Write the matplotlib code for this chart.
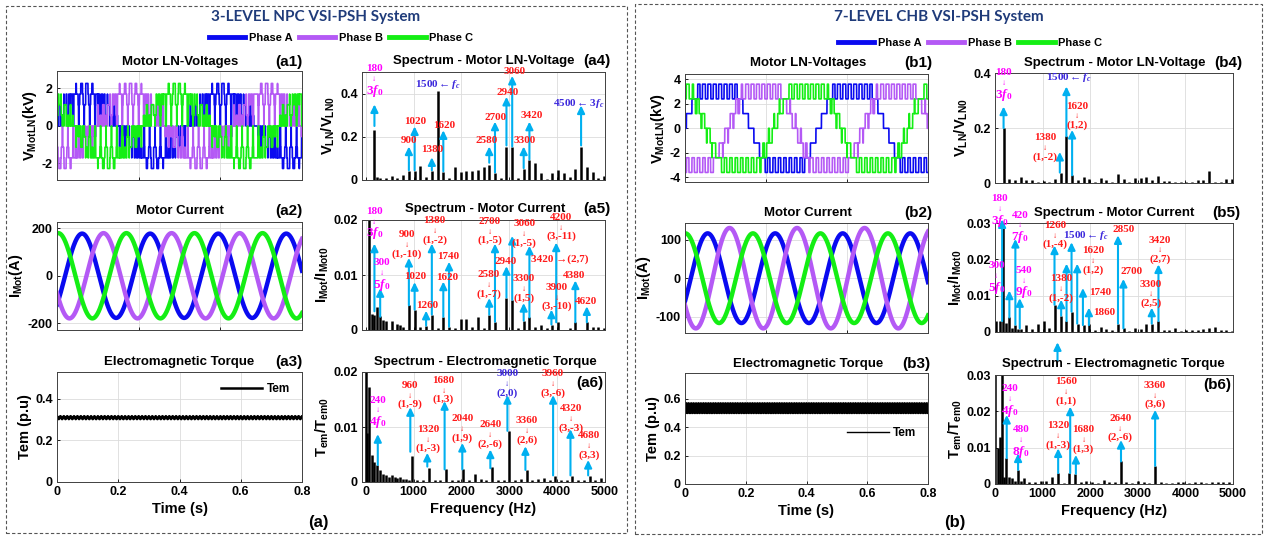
import numpy as np
import matplotlib
import matplotlib.pyplot as plt
from matplotlib.lines import Line2D
from matplotlib.patches import Rectangle
from matplotlib.ticker import FuncFormatter

matplotlib.use('agg')

plt.rcParams['font.family'] = ['Liberation Sans', 'DejaVu Sans']
plt.rcParams['font.weight'] = 'bold'
plt.rcParams['axes.labelweight'] = 'bold'
plt.rcParams['mathtext.fontset'] = 'custom'
plt.rcParams['mathtext.rm'] = 'Liberation Serif'
plt.rcParams['mathtext.it'] = 'Liberation Serif:italic'
plt.rcParams['mathtext.bf'] = 'Liberation Sans:bold'

# ---------------- data ----------------
F0 = 60.0          # fundamental (Hz)
FC = 1500.0        # carrier (Hz)
PHASES = ['Phase A', 'Phase B', 'Phase C']
PHASE_SHIFT = [0.0, -2 * np.pi / 3, 2 * np.pi / 3]

T_VOLT = (0.30, 0.33)
T_CURR = (0.30, 0.36)
T_TORQ = (0.0, 0.8)

# 3-level NPC
NPC_HALF_VDC = 1.7      # kV
NPC_MOD = 0.95
NPC_V_PEAK_T = 0.30348  # phase A voltage centre
NPC_I_AMP = [178, 180, 180]
NPC_I_PEAK_T = [0.30615, 0.31139, 0.30033]
NPC_TEM_MEAN = 0.31
NPC_TEM_RIPPLE = 0.007

# 7-level CHB
CHB_CELL_V = 1.2        # kV per level
CHB_REF_GAIN = 1.5
CHB_REF_LEVEL = 2.55
CHB_V_PEAK_T = 0.3040
CHB_I_AMP = [117, 131, 117]
CHB_I_PEAK_T = [0.3056, 0.3110, 0.3001]
CHB_TEM_MEAN = 0.533
CHB_TEM_RIPPLE = 0.038

# spectra: (frequency Hz, magnitude)
A4_F = [180, 240, 300, 420, 540, 660, 780, 900, 1020, 1140, 1260, 1380, 1500, 1620, 1740, 1860, 1980,
        2100, 2220, 2340, 2460, 2580, 2700, 2820, 2940, 3060, 3180, 3300, 3420, 3540, 3660, 3780, 3900,
        4020, 4140, 4260, 4380, 4500, 4620, 4740, 4860, 4980]
A4_M = [0.233, 0.012, 0.008, 0.01, 0.02, 0.008, 0.025, 0.043, 0.04, 0.067, 0.015, 0.04, 0.41, 0.036,
        0.01, 0.062, 0.036, 0.04, 0.043, 0.048, 0.062, 0.071, 0.031, 0.008, 0.155, 0.152, 0.01, 0.051,
        0.093, 0.078, 0.031, 0.006, 0.033, 0.047, 0.031, 0.012, 0.051, 0.155, 0.059, 0.039, 0.008, 0.019]

A5_F = [60, 120, 180, 240, 300, 360, 420, 540, 660, 720, 780, 900, 1020, 1140, 1260, 1380, 1500, 1620,
        1740, 1860, 1980, 2100, 2220, 2340, 2460, 2580, 2700, 2940, 3060, 3180, 3300, 3420, 3540, 3660,
        3780, 3900, 4020, 4260, 4380, 4620, 4740, 4860, 4980]
A5_M = [1.0, 0.003, 0.0028, 0.0041, 0.0025, 0.0018, 0.0016, 0.0016, 0.0011, 0.0009, 0.0006, 0.0045,
        0.0037, 0.0005, 0.0008, 0.0028, 0.0004, 0.0024, 0.0006, 0.0003, 0.002, 0.002, 0.0005, 0.0023,
        0.0004, 0.0028, 0.0015, 0.0059, 0.0055, 0.0004, 0.0017, 0.0023, 0.0006, 0.001, 0.0004, 0.001,
        0.0014, 0.0004, 0.0014, 0.0014, 0.0005, 0.0005, 0.0004]

A6_F = [0, 30, 75, 120, 180, 240, 300, 360, 420, 480, 540, 600, 660, 720, 780, 840, 900, 960, 1080,
        1200, 1320, 1440, 1560, 1680, 1800, 1920, 2040, 2160, 2280, 2400, 2520, 2640, 2760, 2880, 3000,
        3120, 3240, 3360, 3480, 3600, 3720, 3840, 3960, 4080, 4200, 4320, 4440, 4560, 4680, 4800, 4920]
A6_M = [0.03, 0.009, 0.0173, 0.005, 0.0037, 0.0031, 0.0021, 0.0015, 0.0012, 0.001, 0.0012, 0.0009,
        0.0008, 0.001, 0.0006, 0.0005, 0.0004, 0.0048, 0.0003, 0.0004, 0.0025, 0.0003, 0.0003, 0.0023,
        0.0004, 0.0003, 0.0023, 0.0003, 0.0014, 0.0005, 0.0003, 0.0027, 0.0003, 0.0003, 0.0093, 0.0003,
        0.0006, 0.0022, 0.0003, 0.0006, 0.0007, 0.0003, 0.0011, 0.0003, 0.0003, 0.0011, 0.0003, 0.0003,
        0.0011, 0.0003, 0.0007]

B4_F = [180, 300, 420, 540, 660, 780, 900, 1020, 1140, 1260, 1380, 1500, 1620, 1740, 1860, 1980, 2100,
        2220, 2340, 2460, 2580, 2700, 2820, 2940, 3060, 3180, 3300, 3420, 3540, 3660, 3780, 3900, 4020,
        4140, 4260, 4380, 4500, 4620, 4740, 4860, 4980]
B4_M = [0.2, 0.016, 0.012, 0.022, 0.01, 0.012, 0.005, 0.008, 0.005, 0.016, 0.038, 0.17, 0.028, 0.01,
        0.022, 0.016, 0.005, 0.02, 0.01, 0.004, 0.034, 0.016, 0.005, 0.02, 0.02, 0.022, 0.01, 0.024,
        0.008, 0.008, 0.005, 0.004, 0.005, 0.004, 0.01, 0.01, 0.044, 0.004, 0.003, 0.016, 0.016]

B5_F = [30, 100, 170, 240, 300, 360, 420, 480, 540, 660, 780, 900, 1020, 1140, 1260, 1380, 1500, 1620,
        1740, 1860, 1980, 2100, 2220, 2340, 2460, 2580, 2700, 2820, 2940, 3060, 3180, 3300, 3420, 3540,
        3660, 3780, 3900, 4020, 4140, 4260, 4380, 4500, 4620, 4740, 4860, 4980]
B5_M = [0.003, 0.003, 0.05, 0.0025, 0.0041, 0.0012, 0.0019, 0.0009, 0.0009, 0.0019, 0.0008, 0.0023,
        0.003, 0.0012, 0.0075, 0.0045, 0.003, 0.0056, 0.0023, 0.0019, 0.0023, 0.0006, 0.0015, 0.0008,
        0.0006, 0.0023, 0.0012, 0.0004, 0.0012, 0.0009, 0.0023, 0.0023, 0.003, 0.0005, 0.0006, 0.0012,
        0.0004, 0.0005, 0.0006, 0.0006, 0.0008, 0.0012, 0.0015, 0.0005, 0.0005, 0.0004]

B6_F = [0, 60, 100, 150, 190, 240, 300, 360, 420, 480, 540, 600, 720, 840, 960, 1080, 1200, 1320, 1440,
        1560, 1680, 1800, 1920, 2040, 2160, 2280, 2400, 2520, 2640, 2760, 2880, 3000, 3120, 3240, 3360,
        3480, 3600, 3720, 3840, 3960, 4080, 4200, 4320, 4440, 4560, 4680, 4800, 4920]
B6_M = [0.05, 0.0098, 0.013, 0.05, 0.002, 0.0071, 0.0018, 0.0017, 0.0009, 0.0039, 0.0007, 0.0016, 0.0006,
        0.0005, 0.0007, 0.0008, 0.002, 0.003, 0.0003, 0.003, 0.0028, 0.0005, 0.0008, 0.0005, 0.0004,
        0.0011, 0.0006, 0.0005, 0.0062, 0.0005, 0.0004, 0.0008, 0.0006, 0.0004, 0.005, 0.0005, 0.0004,
        0.0004, 0.0006, 0.0005, 0.0004, 0.0005, 0.0006, 0.0004, 0.0005, 0.0005, 0.0006, 0.0005]

# harmonic markers: arrows (freq, from, to) and labels (freq, value, text, colour key)
A4_ARROWS = [(180, 0.25, 0.35), (900, 0.045, 0.155), (1020, 0.045, 0.248), (1380, 0.045, 0.105),
             (1620, 0.04, 0.23), (2580, 0.08, 0.155), (2700, 0.035, 0.27), (2940, 0.16, 0.385),
             (3060, 0.155, 0.482), (3300, 0.055, 0.155), (3420, 0.095, 0.27), (4500, 0.16, 0.345)]
A4_LABELS = [(180, 0.516, '180\n↓\n$3f_0$', 'm'), (900, 0.183, '900', 'r'), (1033, 0.271, '1020', 'r'),
             (1382, 0.141, '1380', 'r'), (1640, 0.253, '1620', 'r'), (2533, 0.183, '2580', 'r'),
             (2708, 0.291, '2700', 'r'), (2973, 0.405, '2940', 'r'), (3112, 0.504, '3060', 'r'),
             (3315, 0.183, '3300', 'r'), (3475, 0.299, '3420', 'r'),
             (1500, 0.442, r'1500$\leftarrow f_c$', 'b'), (4452, 0.353, r'4500$\leftarrow 3f_c$', 'b')]

A5_ARROWS = [(180, 0.0034, 0.0157), (300, 0.0024, 0.0076), (900, 0.0045, 0.0131), (1020, 0.0037, 0.0087),
             (1260, 0.0008, 0.0035), (1380, 0.0028, 0.0157), (1620, 0.0024, 0.0088), (1740, 0.0006, 0.0124),
             (2580, 0.0028, 0.0058), (2700, 0.0015, 0.0157), (2940, 0.0059, 0.0116), (3060, 0.0055, 0.0171),
             (3300, 0.0017, 0.0049), (3420, 0.0023, 0.0153), (3880, 0.001, 0.0037), (3980, 0.0014, 0.0159),
             (4380, 0.0014, 0.009), (4620, 0.0014, 0.0043)]
A5_LABELS = [(181, 0.0216, '180\n↓\n$3f_0$', 'm'), (330, 0.0122, '300\n↓\n$5f_0$', 'm'),
             (858, 0.0174, '900\n↓\n(1,-10)', 'r'), (1040, 0.0098, '1020', 'r'), (1277, 0.0045, '1260', 'r'),
             (1437, 0.0199, '1380\n↓\n(1,-2)', 'r'), (1700, 0.0095, '1620', 'r'), (1717, 0.0133, '1740', 'r'),
             (2575, 0.0101, '2580\n↓\n(1,-7)', 'r'), (2589, 0.0198, '2700\n↓\n(1,-5)', 'r'),
             (2917, 0.0124, '2940', 'r'), (3310, 0.0194, '3060\n↓\n(1,-5)', 'r'),
             (3300, 0.0094, '3300\n↓\n(1,5)', 'r'), (4054, 0.0128, '3420 →(2,7)', 'r'),
             (3990, 0.0078, '3900\n↓\n(3,-10)', 'r'), (4089, 0.0205, '4200\n↓\n(3,-11)', 'r'),
             (4355, 0.00997, '4380', 'r'), (4613, 0.0052, '4620', 'r')]

A6_ARROWS = [(250, 0.0031, 0.0087), (930, 0.0055, 0.0136), (1285, 0.0028, 0.0053), (1647, 0.0023, 0.0147),
             (2017, 0.0023, 0.0071), (2603, 0.0025, 0.0059), (2960, 0.0093, 0.0158), (3336, 0.0022, 0.0065),
             (3915, 0.0012, 0.0158), (4278, 0.0012, 0.0096), (4648, 0.0012, 0.004)]
A6_LABELS = [(251, 0.0149, '240\n↓\n$4f_0$', 'm'), (914, 0.0176, '960\n↓\n(1,-9)', 'r'),
             (1298, 0.0096, '1320\n↓\n(1,-3)', 'r'), (1626, 0.0185, '1680\n↓\n(1,3)', 'r'),
             (2017, 0.0115, '2040\n↓\n(1,9)', 'r'), (2603, 0.0104, '2640\n↓\n(2,-6)', 'r'),
             (3371, 0.0111, '3360\n↓\n(2,6)', 'r'), (3915, 0.0197, '3960\n↓\n(3,-6)', 'r'),
             (4299, 0.0133, '4320\n↓\n(3,-3)', 'r'), (4669, 0.0084, '4680\n↓\n(3,3)', 'r'),
             (2959, 0.0197, '3000\n↓\n(2,0)', 'b')]

B4_ARROWS = [(180, 0.2, 0.278), (1500, 0.17, 0.351), (1620, 0.028, 0.193), (1362, 0.038, 0.113)]
B4_LABELS = [(183, 0.402, '180\n↓\n$3f_0$', 'm'), (1552, 0.382, r'1500$\leftarrow f_c$', 'b'),
             (1728, 0.28, '1620\n↓\n(1,2)', 'r'), (1060, 0.166, '1380\n↓\n(1,-2)', 'r')]

B5_ARROWS = [(150, 0.003, 0.031), (302, 0.004, 0.0114), (428, 0.002, 0.0256), (520, 0.001, 0.0093),
             (1250, 0.0075, 0.0238), (1390, 0.0045, 0.0089), (1503, 0.003, 0.0188), (1608, 0.0056, 0.0247),
             (1727, 0.0023, 0.0188), (1847, 0.0019, 0.0121), (1973, 0.0019, 0.0067), (2584, 0.0023, 0.0266),
             (2697, 0.001, 0.0146), (3293, 0.0023, 0.0067), (3434, 0.003, 0.0186)]
B5_LABELS = [(100, 0.0368, '180\n↓\n$3f_0$', 'm'), (30, 0.0182, '300\n↓\n$5f_0$', 'm'),
             (527, 0.0322, '420\n↓\n$7f_0$', 'm'), (604, 0.017, '540\n↓\n$9f_0$', 'm'),
             (1257, 0.0294, '1260\n↓\n(1,-4)', 'r'), (1397, 0.0147, '1380\n↓\n(1,-2)', 'r'),
             (2065, 0.0224, '1620\n↓\n(1,2)', 'r'), (2205, 0.011, '1740', 'r'), (2289, 0.0053, '1860', 'r'),
             (2711, 0.0281, '2850', 'r'), (2865, 0.0166, '2700', 'r'), (3462, 0.0253, '3420\n↓\n(2,7)', 'r'),
             (3272, 0.0132, '3300\n↓\n(2,5)', 'r'), (1917, 0.0266, r'1500$\leftarrow f_c$', 'b')]

B6_ARROWS = [(246, 0.0071, 0.019), (485, 0.0039, 0.0084), (1327, 0.003, 0.0098), (1580, 0.003, 0.0213),
             (1699, 0.0028, 0.008), (2647, 0.0062, 0.0121), (3364, 0.005, 0.0204), (1313, 0.0341, 0.039)]
B6_LABELS = [(316, 0.0263, '240\n↓\n$4f_0$', 'm'), (541, 0.0149, '480\n↓\n$8f_0$', 'm'),
             (1327, 0.016, '1320\n↓\n(1,-3)', 'r'), (1489, 0.0282, '1560\n↓\n(1,1)', 'r'),
             (1861, 0.0149, '1680\n↓\n(1,3)', 'r'), (2633, 0.0181, '2640\n↓\n(2,-6)', 'r'),
             (3364, 0.0272, '3360\n↓\n(3,6)', 'r')]

# ---------------- styles ----------------
PHASE_COLORS = ['#0a0af0', '#b459f5', '#14ee14']
LABEL_COLORS = {'r': '#ff1a1a', 'm': '#ff00ff', 'b': '#3c28dc'}
ARROW_C = '#00b0f0'
TITLE_C = '#1f3b7a'
W, H = 1264, 536

fig = plt.figure(figsize=(W / 100, H / 100), dpi=100)


def box(l, t, r, b):
    return [l / W, 1 - b / H, (r - l) / W, (b - t) / H]


def P(x, y):
    return x / W, 1 - y / H


fmt = FuncFormatter(lambda v, p: '%g' % v)


def style(ax, xlim, ylim, xticks, yticks, show_x):
    ax.set_xlim(xlim)
    ax.set_ylim(ylim)
    ax.set_xticks(xticks)
    ax.set_yticks(yticks)
    ax.xaxis.set_major_formatter(fmt)
    ax.yaxis.set_major_formatter(fmt)
    if not show_x:
        ax.set_xticklabels([])
    ax.grid(True, color='#dcdcdc', lw=0.6)
    ax.set_axisbelow(True)
    ax.tick_params(direction='in', length=2.5, width=0.6, labelsize=9, pad=3)
    for s in ax.spines.values():
        s.set_linewidth(0.7)
        s.set_color('#404040')


def put_label(ax, x, y, text, color):
    # number on top, small down arrow, then the harmonic / sideband name
    for i, line in enumerate(text.split('\n')):
        off = [0, 7.5, 14][i]
        size = 8
        if line.startswith('$'):
            off += 2
            size = 9.5
        elif line == '↓':
            size = 6
        ax.annotate(line, (x, y), xytext=(0, -off), textcoords='offset points', ha='center', va='center',
                    color=color, fontsize=size, family='Liberation Serif', fontweight='bold',
                    annotation_clip=False)


def spectrum(ax, freqs, mags, arrows, labels, xlim, ylim, yticks, show_x):
    ax.vlines(freqs, 0, mags, color='black', lw=1.8, zorder=2)
    for x, y0, y1 in arrows:
        ax.annotate('', xy=(x, y1), xytext=(x, y0),
                    arrowprops=dict(arrowstyle='-|>,head_length=0.45,head_width=0.22', color=ARROW_C,
                                    lw=1.5, shrinkA=0, shrinkB=0, mutation_scale=10),
                    annotation_clip=False, zorder=3)
    for x, y, text, key in labels:
        put_label(ax, x, y, text, LABEL_COLORS[key])
    style(ax, xlim, ylim, [0, 1000, 2000, 3000, 4000, 5000], yticks, show_x)
    if show_x:
        ax.set_xlabel('Frequency (Hz)', fontsize=10.5, labelpad=3)


def label_row(x, y, text, tag, tag_x, tag_y=None):
    fig.text(*P(x, y), text, ha='center', va='center', fontsize=9.5, fontweight='bold')
    fig.text(*P(tag_x, y if tag_y is None else tag_y), tag, ha='right', va='center',
             fontsize=11, fontweight='bold')


# ---------------- waveforms ----------------
t_v = np.linspace(T_VOLT[0], T_VOLT[1], 4001)
t_i = np.linspace(T_CURR[0], T_CURR[1], 2001)
t_q = np.linspace(T_TORQ[0], T_TORQ[1], 8001)
tri = np.abs(((t_v * FC) % 1.0) * 2 - 1)


def npc_legs():
    legs = []
    for shift in PHASE_SHIFT:
        ref = NPC_MOD * np.cos(2 * np.pi * F0 * (t_v - NPC_V_PEAK_T) + shift)
        legs.append(NPC_HALF_VDC * ((ref > tri).astype(float) - ((-ref) > tri).astype(float)))
    common = sum(legs) / 3
    return [v - common for v in legs]


def chb_voltage(shift):
    r = CHB_REF_LEVEL * np.clip(CHB_REF_GAIN * np.cos(2 * np.pi * F0 * (t_v - CHB_V_PEAK_T) + shift), -1, 1)
    base = np.floor(r)
    return CHB_CELL_V * (base + ((r - base) > tri))


# ---------------- left panel (3-level NPC) ----------------
ax = fig.add_axes(box(57, 71, 302, 180))
for k, v in enumerate(npc_legs()):
    ax.plot(t_v, v, color=PHASE_COLORS[k], lw=1.2)
style(ax, T_VOLT, (-2.88, 2.93), [0.31, 0.32], [-2, 0, 2], False)
ax.set_ylabel(r'$\mathbf{V_{MotLN}}$(kV)', fontsize=10.5, labelpad=2)
label_row(180, 62, 'Motor LN-Voltages', '(a1)', 302)

ax = fig.add_axes(box(57, 222, 302, 330))
for k in range(3):
    ax.plot(t_i, NPC_I_AMP[k] * np.cos(2 * np.pi * F0 * (t_i - NPC_I_PEAK_T[k])), color=PHASE_COLORS[k], lw=3.2)
style(ax, T_CURR, (-229, 227), [0.32, 0.34], [-200, 0, 200], False)
ax.set_ylabel(r'$\mathbf{I_{Mot}}$(A)', fontsize=10.5, labelpad=2)
label_row(180, 211, 'Motor Current', '(a2)', 302)

ax = fig.add_axes(box(57, 372, 302, 482))
ax.plot(t_q, NPC_TEM_MEAN + NPC_TEM_RIPPLE * np.cos(2 * np.pi * 90 * t_q), color='black', lw=1.8, label='Tem')
style(ax, T_TORQ, (0, 0.53), [0, 0.2, 0.4, 0.6, 0.8], [0, 0.2, 0.4], True)
ax.set_ylabel('Tem (p.u)', fontsize=10.5, labelpad=2)
ax.set_xlabel('Time (s)', fontsize=10.5, labelpad=3)
ax.legend(loc='center', bbox_to_anchor=(0.81, 0.845), frameon=False, handlelength=3.5, handletextpad=0.4,
          prop={'size': 8.5, 'weight': 'bold'})
label_row(179, 362, 'Electromagnetic Torque', '(a3)', 302)

ax = fig.add_axes(box(362, 72, 605, 180))
spectrum(ax, A4_F, A4_M, A4_ARROWS, A4_LABELS, (-80, 5000), (0, 0.5), [0, 0.2, 0.4], False)
ax.set_ylabel(r'$\mathbf{V_{LN}/V_{LN0}}$', fontsize=10.5, labelpad=2)
label_row(484, 61, 'Spectrum - Motor LN-Voltage', '(a4)', 610)

ax = fig.add_axes(box(362, 220, 605, 330))
spectrum(ax, A5_F, A5_M, A5_ARROWS, A5_LABELS, (-80, 5000), (0, 0.02), [0, 0.01, 0.02], False)
ax.set_ylabel(r'$\mathbf{I_{Mot}/I_{Mot0}}$', fontsize=10.5, labelpad=2)
label_row(485, 209, 'Spectrum - Motor Current', '(a5)', 610)

ax = fig.add_axes(box(362, 372, 605, 482))
spectrum(ax, A6_F, A6_M, A6_ARROWS, A6_LABELS, (-80, 5000), (0, 0.02), [0, 0.01, 0.02], True)
ax.set_ylabel(r'$\mathbf{T_{em}/T_{em0}}$', fontsize=10.5, labelpad=2)
label_row(485, 362, 'Spectrum - Electromagnetic Torque', '(a6)', 603, 383)

# ---------------- right panel (7-level CHB) ----------------
ax = fig.add_axes(box(685, 74, 928, 182))
for k in range(3):
    ax.plot(t_v, chb_voltage(PHASE_SHIFT[k]), color=PHASE_COLORS[k], lw=1.2)
style(ax, T_VOLT, (-4.38, 4.43), [0.31, 0.32], [-4, -2, 0, 2, 4], False)
ax.set_ylabel(r'$\mathbf{V_{MotLN}}$(kV)', fontsize=10.5, labelpad=2)
label_row(808, 63, 'Motor LN-Voltages', '(b1)', 932)

ax = fig.add_axes(box(685, 223, 928, 333))
for k in range(3):
    ax.plot(t_i, CHB_I_AMP[k] * np.cos(2 * np.pi * F0 * (t_i - CHB_I_PEAK_T[k])), color=PHASE_COLORS[k], lw=3.2)
style(ax, T_CURR, (-143, 144), [0.32, 0.34], [-100, 0, 100], False)
ax.set_ylabel(r'$\mathbf{I_{Mot}}$(A)', fontsize=10.5, labelpad=2)
label_row(808, 213, 'Motor Current', '(b2)', 932)

ax = fig.add_axes(box(685, 373, 928, 484))
ax.plot(t_q, CHB_TEM_MEAN + CHB_TEM_RIPPLE * np.cos(2 * np.pi * 180 * t_q), color='black', lw=1.0, label='Tem')
style(ax, T_TORQ, (0, 0.78), [0, 0.2, 0.4, 0.6, 0.8], [0, 0.2, 0.4, 0.6], True)
ax.set_ylabel('Tem (p.u)', fontsize=10.5, labelpad=2)
ax.set_xlabel('Time (s)', fontsize=10.5, labelpad=3)
ax.legend(loc='center', bbox_to_anchor=(0.81, 0.46), frameon=False, handlelength=3.5, handletextpad=0.4,
          prop={'size': 8.5, 'weight': 'bold'})
label_row(808, 364, 'Electromagnetic Torque', '(b3)', 930)

ax = fig.add_axes(box(995, 73, 1233, 183))
spectrum(ax, B4_F, B4_M, B4_ARROWS, B4_LABELS, (0, 5000), (0, 0.4), [0, 0.2, 0.4], False)
ax.set_ylabel(r'$\mathbf{V_{LN}/V_{LN0}}$', fontsize=10.5, labelpad=2)
label_row(1115, 63, 'Spectrum - Motor LN-Voltage', '(b4)', 1242)

ax = fig.add_axes(box(995, 223, 1233, 332))
spectrum(ax, B5_F, B5_M, B5_ARROWS, B5_LABELS, (0, 5000), (0, 0.03), [0, 0.01, 0.02, 0.03], False)
ax.set_ylabel(r'$\mathbf{I_{Mot}/I_{Mot0}}$', fontsize=10.5, labelpad=2)
label_row(1114, 213, 'Spectrum - Motor Current', '(b5)', 1240)

ax = fig.add_axes(box(995, 375, 1233, 484))
spectrum(ax, B6_F, B6_M, B6_ARROWS, B6_LABELS, (0, 5000), (0, 0.03), [0, 0.01, 0.02, 0.03], True)
ax.set_ylabel(r'$\mathbf{T_{em}/T_{em0}}$', fontsize=10.5, labelpad=2)
label_row(1113, 364, 'Spectrum - Electromagnetic Torque', '(b6)', 1231, 385)

# ---------------- frame, headers, legends ----------------
fig.add_artist(Rectangle(P(6, 533), 621 / W, 527 / H, transform=fig.transFigure, fill=False,
                         ls=(0, (3, 2)), lw=0.8, ec='#555555'))
fig.add_artist(Rectangle(P(635, 534), 627 / W, 530 / H, transform=fig.transFigure, fill=False,
                         ls=(0, (3, 2)), lw=0.8, ec='#555555'))

fig.text(*P(316, 17), '3-LEVEL NPC VSI-PSH System', ha='center', va='center', fontsize=11,
         fontweight='bold', color=TITLE_C, family='Lato')
fig.text(*P(939, 17), '7-LEVEL CHB VSI-PSH System', ha='center', va='center', fontsize=11,
         fontweight='bold', color=TITLE_C, family='Lato')
fig.text(*P(318, 522), '(a)', ha='center', va='center', fontsize=12, fontweight='bold')
fig.text(*P(955, 523), '(b)', ha='center', va='center', fontsize=12, fontweight='bold')

handles = [Line2D([], [], color=c, lw=3.5) for c in PHASE_COLORS]
for cx, cy in [(341, 38), (970, 43)]:
    fig.legend(handles, PHASES, loc='center', bbox_to_anchor=P(cx, cy), ncol=3, frameon=False,
               handlelength=3.3, handletextpad=0.3, columnspacing=0.6, borderpad=0,
               prop={'size': 8, 'weight': 'bold'})

fig.savefig('out.png', dpi=100)
